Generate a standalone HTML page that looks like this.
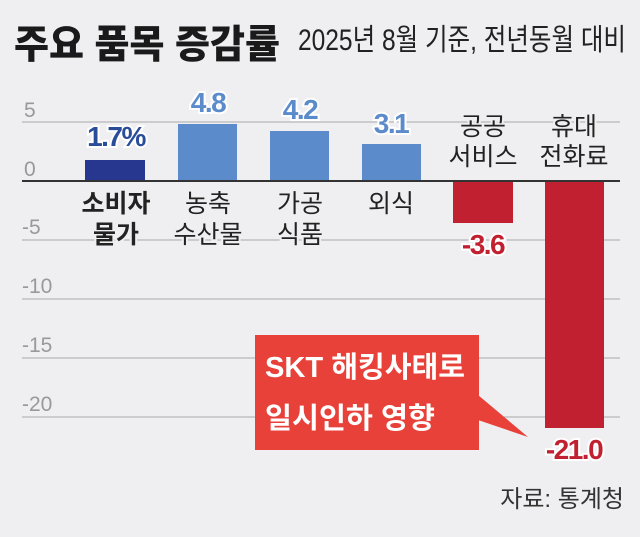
<!DOCTYPE html>
<html><head><meta charset="utf-8"><style>
body{margin:0;width:640px;height:532px;background:#efeff1;overflow:hidden;font-family:"Liberation Sans","Noto Sans CJK KR",sans-serif}
</style></head><body>
<svg width="640" height="532" xmlns="http://www.w3.org/2000/svg" style="font-family:'Liberation Sans','Noto Sans CJK KR',sans-serif">
<rect width="640" height="532" fill="#efeff1"/>
<text x="14" y="58" font-size="39" font-weight="900" fill="#1a1a1a" textLength="266" lengthAdjust="spacingAndGlyphs">주요 품목 증감률</text>
<text x="298" y="50" font-size="30" fill="#222" textLength="328" lengthAdjust="spacingAndGlyphs">2025년 8월 기준, 전년동월 대비</text>
<g stroke="#aaa" stroke-width="1">
<line x1="22" x2="620" y1="122" y2="122"/>
<line x1="22" x2="620" y1="240" y2="240"/>
<line x1="22" x2="620" y1="299" y2="299"/>
<line x1="22" x2="620" y1="358" y2="358"/>
<line x1="22" x2="620" y1="417" y2="417"/>
</g>
<g font-size="21" fill="#999">
<text x="24" y="117">5</text><text x="24" y="176">0</text><text x="22" y="234">-5</text>
<text x="22" y="293">-10</text><text x="22" y="352">-15</text><text x="22" y="411">-20</text>
</g>
<rect x="85" y="160" width="60" height="21" fill="#27378f"/>
<rect x="178" y="124" width="59" height="57" fill="#5c8bcb"/>
<rect x="270" y="131" width="59" height="50" fill="#5c8bcb"/>
<rect x="362" y="144" width="59" height="37" fill="#5c8bcb"/>
<rect x="453" y="181" width="60" height="42" fill="#c0202f"/>
<rect x="545" y="181" width="59" height="247" fill="#c0202f"/>
<line x1="22" x2="620" y1="181" y2="181" stroke="#333" stroke-width="2"/>
<g font-weight="bold" text-anchor="middle" font-size="28" letter-spacing="-1.5">
<text x="116" y="146" fill="#2a4d9a" stroke="#fff" stroke-width="4" paint-order="stroke">1.7%</text>
<text x="208" y="112" fill="#5c8bcb" stroke="#fff" stroke-width="4" paint-order="stroke">4.8</text>
<text x="300" y="119" fill="#5c8bcb" stroke="#fff" stroke-width="4" paint-order="stroke">4.2</text>
<text x="391" y="133" fill="#5c8bcb" stroke="#fff" stroke-width="4" paint-order="stroke">3.1</text>
<text x="483" y="254" fill="#c0202f" stroke="#fff" stroke-width="4" paint-order="stroke">-3.6</text>
<text x="574" y="459" fill="#c0202f" stroke="#fff" stroke-width="4" paint-order="stroke">-21.0</text>
</g>
<g text-anchor="middle" font-size="25" fill="#222" stroke="#efeff1" stroke-width="4" paint-order="stroke">
<text x="116" y="212" font-weight="bold">소비자</text><text x="116" y="243" font-weight="bold">물가</text>
<text x="208" y="212">농축</text><text x="208" y="243">수산물</text>
<text x="300" y="212">가공</text><text x="300" y="243">식품</text>
<text x="391" y="212">외식</text>
<text x="483" y="135">공공</text><text x="483" y="165">서비스</text>
<text x="574" y="135">휴대</text><text x="574" y="165">전화료</text>
</g>
<polygon points="478,395 528,437 478,420" fill="#e8413a"/>
<rect x="255" y="335" width="224" height="115" fill="#e8413a"/>
<text x="265" y="377" font-size="29" font-weight="bold" fill="#fff" textLength="200" lengthAdjust="spacingAndGlyphs">SKT 해킹사태로</text>
<text x="265" y="428" font-size="29" font-weight="bold" fill="#fff" textLength="170" lengthAdjust="spacingAndGlyphs">일시인하 영향</text>
<text x="624" y="507" font-size="24" fill="#333" text-anchor="end">자료: 통계청</text>
</svg>
</body></html>
